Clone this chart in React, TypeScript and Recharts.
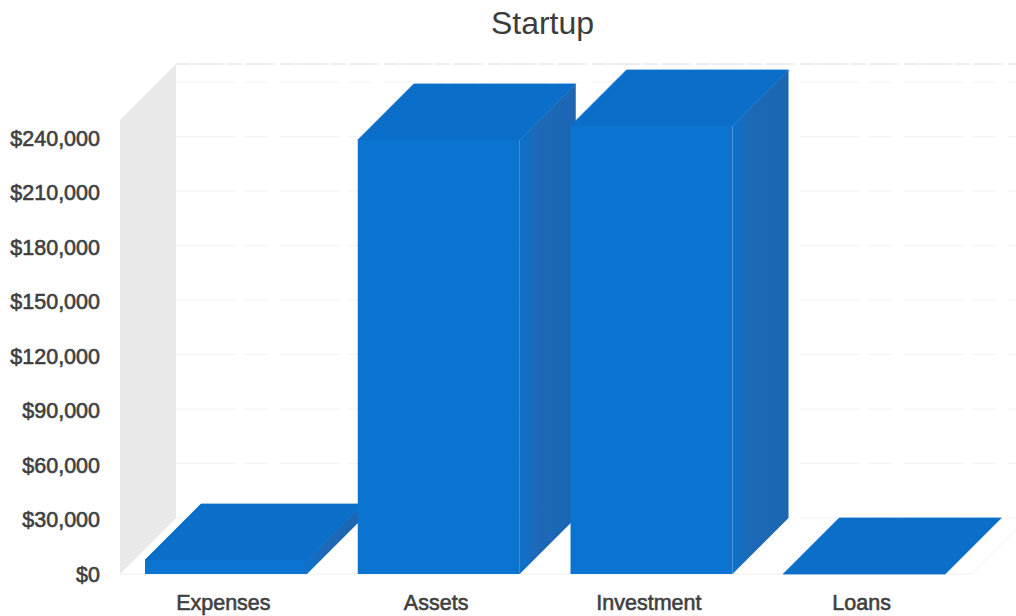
import { BarChart, Bar, XAxis, YAxis, CartesianGrid, usePlotArea } from 'recharts';

const categories = ['Expenses', 'Assets', 'Investment', 'Loans'];
const amounts = [7700, 239000, 246700, 0];
const yTicks = [0, 30000, 60000, 90000, 120000, 150000, 180000, 210000, 240000];
const yMax = 250000;

const chartData = categories.map((name, i) => ({ name, amount: amounts[i] }));

// how far the back of the box sits from the front, up and to the right
const DEPTH_X = 56;
const DEPTH_Y = 56;

const formatDollars = (value: number) => `$${value.toLocaleString('en-US')}`;

function Box3D({ x, y, width, height }: any) {
  const left = x;
  const right = x + width;
  const top = y;
  const bottom = y + height;
  const top2 = top - DEPTH_Y;
  const bottom2 = bottom - DEPTH_Y;
  return (
    <g>
      <polygon
        points={`${right},${top} ${right + DEPTH_X},${top2} ${right + DEPTH_X},${bottom2} ${right},${bottom}`}
        fill="url(#sideShade)"
      />
      <polygon
        points={`${left},${top} ${left + DEPTH_X},${top2} ${right + DEPTH_X},${top2} ${right},${top}`}
        fill="#0b6fca"
        stroke="#0b6fca"
        strokeWidth={0.8}
      />
      {height > 0 && <rect x={left} y={top} width={width} height={height} fill="url(#frontShade)" />}
    </g>
  );
}

function BackWalls() {
  const plot = usePlotArea();
  if (!plot) return null;
  const left = plot.x;
  const right = plot.x + plot.width;
  const top = plot.y;
  const bottom = plot.y + plot.height;
  return (
    <g>
      <polygon
        points={`${left},${bottom} ${left + DEPTH_X},${bottom - DEPTH_Y} ${left + DEPTH_X},${top - DEPTH_Y} ${left},${top}`}
        fill="#e9e9e9"
      />
      <line x1={left + DEPTH_X} x2={right + DEPTH_X} y1={top - DEPTH_Y} y2={top - DEPTH_Y} stroke="#e2e2e2" strokeDasharray="14 3 30 5" />
      <line x1={left} x2={right} y1={bottom} y2={bottom} stroke="#eeeeee" />
      <line x1={right} x2={right + DEPTH_X} y1={bottom} y2={bottom - DEPTH_Y} stroke="#f0f0f0" />
    </g>
  );
}

// grid lines are drawn on the back wall, so they shift by the box depth
function BackGridLine({ x1, x2, y1, y2 }: any) {
  return (
    <line
      x1={x1 + DEPTH_X}
      x2={x2 + DEPTH_X}
      y1={y1 - DEPTH_Y}
      y2={y2 - DEPTH_Y}
      stroke="#f3f3f3"
      strokeDasharray="60 8 24 12"
    />
  );
}

const tickStyle = {
  fontSize: 21.5,
  fill: '#3f3f3f',
  stroke: '#3f3f3f',
  strokeWidth: 0.6,
  fontFamily: '"Liberation Sans", Arial, sans-serif',
};

export default function App() {
  return (
    <div style={{ position: 'absolute', left: 0, top: 0, background: '#fff' }}>
      <BarChart
        width={1016}
        height={616}
        data={chartData}
        margin={{ top: 120, right: 45, bottom: 0, left: 0 }}
        barCategoryGap={51}
      >
        <defs>
          <linearGradient id="sideShade" x1="0" y1="0" x2="1" y2="0">
            <stop offset="0" stopColor="#0c72cc" />
            <stop offset="0.3" stopColor="#1d69b7" />
            <stop offset="1" stopColor="#1c66b2" />
          </linearGradient>
          <linearGradient id="frontShade" x1="0" y1="0" x2="1" y2="0">
            <stop offset="0" stopColor="#0a74d0" />
            <stop offset="0.97" stopColor="#0a74d0" />
            <stop offset="1" stopColor="#1370c6" />
          </linearGradient>
        </defs>
        <BackWalls />
        <CartesianGrid vertical={false} horizontal={(props: any) => <BackGridLine key={props.key} {...props} />} />
        <XAxis
          dataKey="name"
          height={42}
          axisLine={false}
          tickLine={false}
          tickMargin={15}
          tick={{ ...tickStyle, dx: -3 }}
          interval={0}
        />
        <YAxis
          width={120}
          type="number"
          domain={[0, yMax]}
          ticks={yTicks}
          axisLine={false}
          tickLine={false}
          tickMargin={14}
          tickFormatter={formatDollars}
          tick={tickStyle}
          interval={0}
        />
        <Bar dataKey="amount" barSize={162} shape={Box3D} isAnimationActive={false} />
        <text
          x={542.5}
          y={23}
          textAnchor="middle"
          dominantBaseline="central"
          fontSize={32}
          fill="#3c3c3c"
          fontFamily='"Liberation Sans", Arial, sans-serif'
        >
          Startup
        </text>
      </BarChart>
    </div>
  );
}
